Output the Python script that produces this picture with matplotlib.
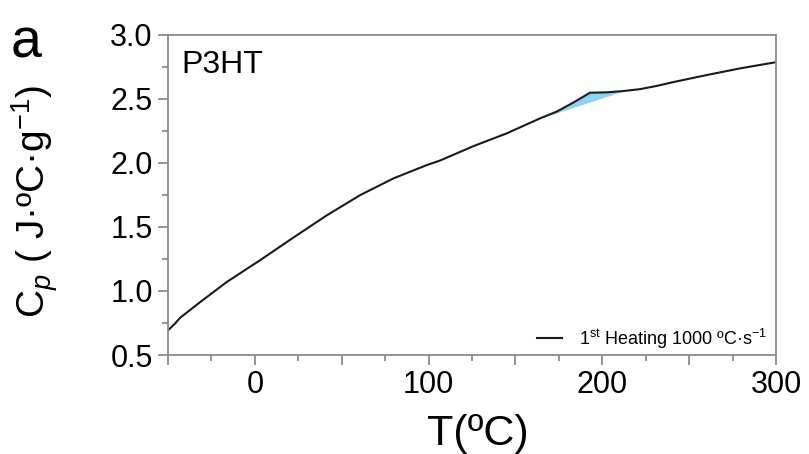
import matplotlib
matplotlib.use("Agg")
import matplotlib.pyplot as plt
import numpy as np
from matplotlib.ticker import MultipleLocator, FuncFormatter

plt.rcParams['font.family'] = ['Liberation Sans', 'DejaVu Sans']
plt.rcParams['mathtext.fontset'] = 'custom'
plt.rcParams['mathtext.rm'] = 'Liberation Sans'
plt.rcParams['mathtext.it'] = 'Liberation Sans:italic'

# Data
temp = [-50, -46.0, -43.1, -31.6, -16.2, 3.0, 22.2, 41.4, 60.6, 79.7, 98.9, 106.6, 118.1,
        125.8, 145.0, 164.2, 173.8, 183.3, 192.9, 202.5, 212.1, 221.7, 231.3,
        240.9, 260.1, 279.3, 299.4]
cp = [0.693, 0.745, 0.790, 0.912, 1.07, 1.24, 1.417, 1.59, 1.748, 1.878, 1.982, 2.018, 2.085,
      2.13, 2.23, 2.347, 2.40, 2.47, 2.547, 2.55, 2.56, 2.575, 2.60,
      2.63, 2.685, 2.737, 2.784]
# baseline for the shaded transition region
fill_start = 164.2
fill_end = 212.1

legend_label = "1$^{\\mathrm{st}}$ Heating 1000 ºC·s$^{\\mathrm{-1}}$"

fig = plt.figure(figsize=(8.09, 4.54), dpi=100)
ax = fig.add_axes([0.2077, 0.218, 0.7515, 0.7056])

t = np.array(temp)
c = np.array(cp)
tf = np.linspace(fill_start, fill_end, 60)
cf = np.interp(tf, t, c)
base = np.interp(tf, [fill_start, fill_end], [np.interp(fill_start, t, c), np.interp(fill_end, t, c)])
ax.fill_between(tf, base, cf, color='#8dd4f2', lw=0, zorder=1)
ax.plot(t, c, color='#1a1a1a', lw=1.5, label=legend_label, zorder=2)

ax.set_xlim(-50, 300)
ax.set_ylim(0.5, 3.0)
ax.xaxis.set_major_locator(MultipleLocator(50))
ax.xaxis.set_minor_locator(MultipleLocator(25))
ax.xaxis.set_major_formatter(FuncFormatter(lambda v, p: f"{int(round(v))}" if round(v) % 100 == 0 else ""))
ax.yaxis.set_major_locator(MultipleLocator(0.5))
ax.yaxis.set_minor_locator(MultipleLocator(0.25))
ax.yaxis.set_major_formatter(FuncFormatter(lambda v, p: f"{v:.1f}"))

for s in ax.spines.values():
    s.set_color('#8a8a8a')
    s.set_linewidth(1.3)
ax.tick_params(which='both', direction='out', colors='#8a8a8a', labelcolor='black',
               top=False, right=False, labelsize=22, width=1.3)
ax.tick_params(which='major', length=7, pad=4)
ax.tick_params(which='minor', length=4)

ax.set_xlabel("T(ºC)", fontsize=31, va='top')
ax.xaxis.set_label_coords(0.51, -0.183)
ax.set_ylabel("C$_{\\mathit{p}}$ ( J·ºC·g$^{\\mathrm{-1}}$)", fontsize=28)
ax.yaxis.set_label_coords(-0.178, 0.48)

ax.text(0.022, 0.952, "P3HT", transform=ax.transAxes, fontsize=23, va='top', ha='left')
fig.text(0.013, 1 - 57 / 454, "a", fontsize=40, va='baseline', ha='left')

leg = ax.legend(loc='lower right', bbox_to_anchor=(0.992, 0.0), frameon=False, fontsize=13,
                handlelength=1.4, borderaxespad=0.0, borderpad=0.25, handletextpad=0.9)

fig.savefig("out.png", dpi=100)
